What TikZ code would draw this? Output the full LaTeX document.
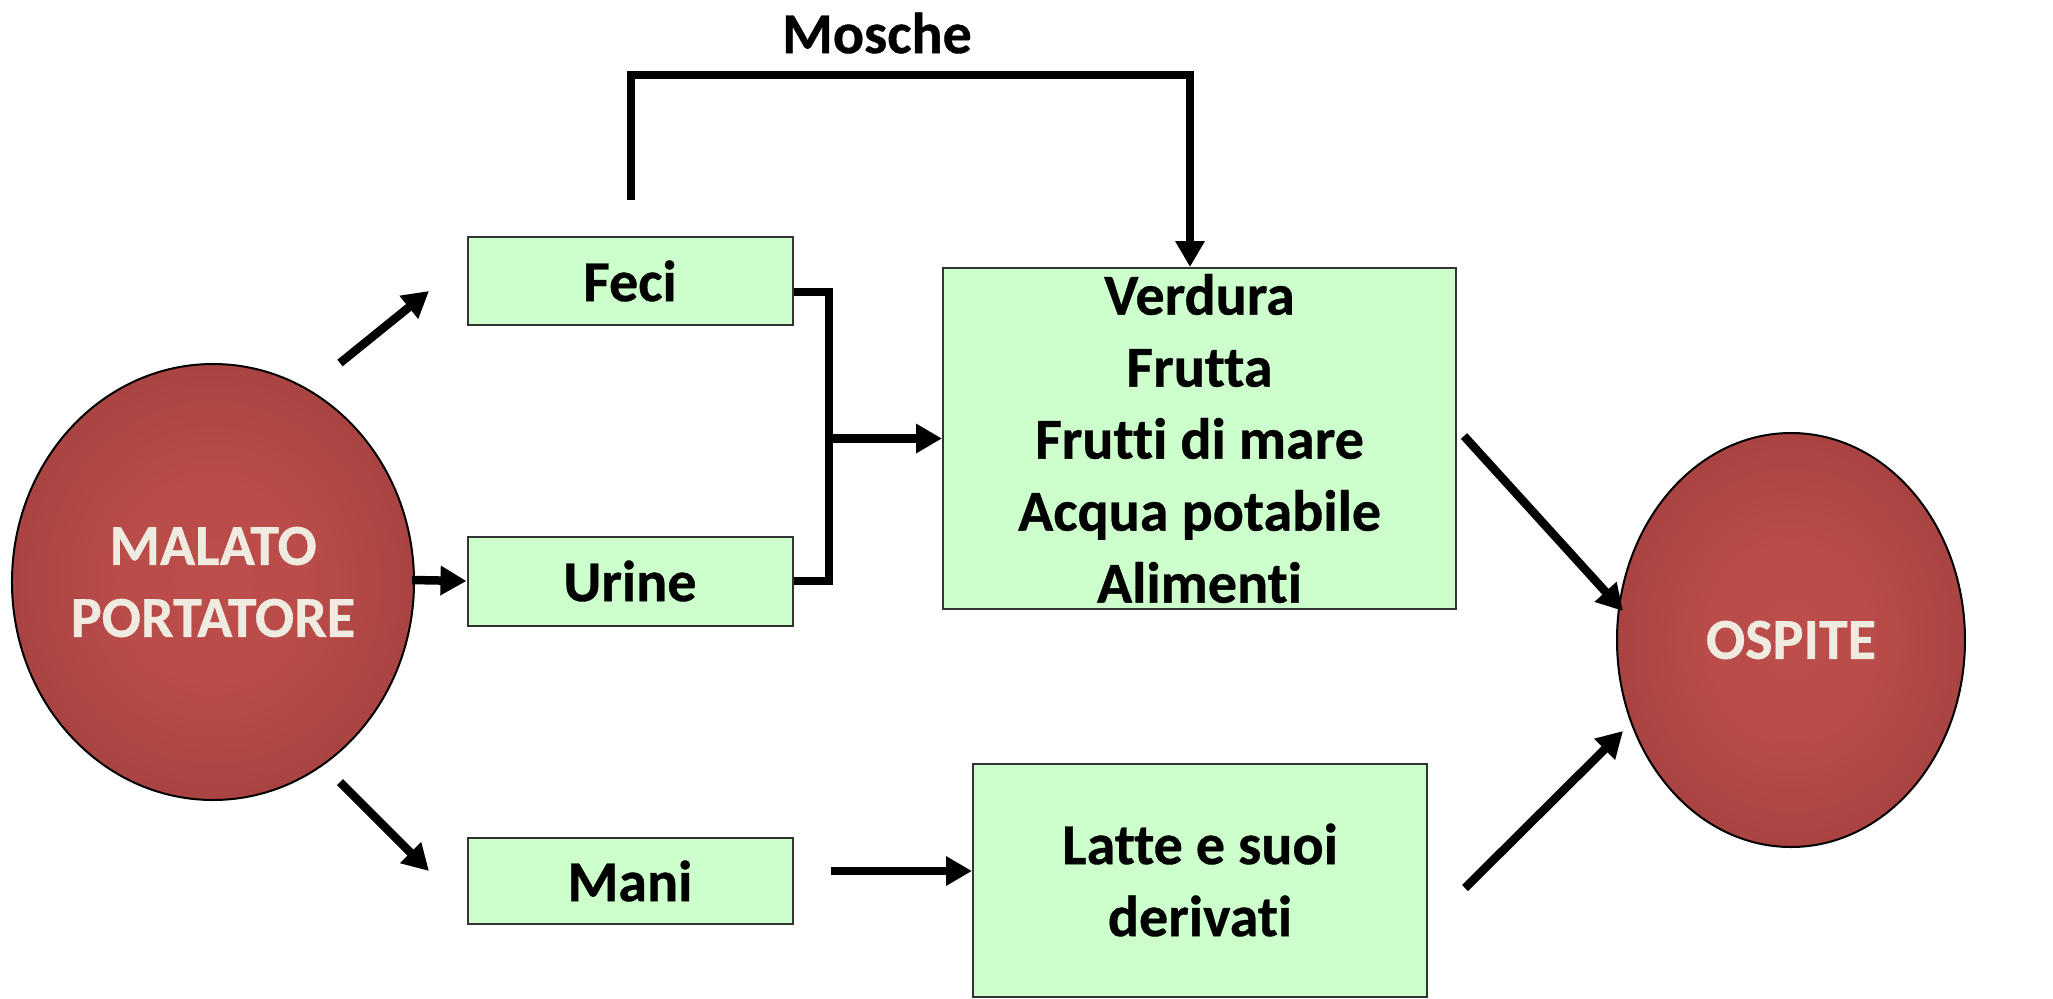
\documentclass[tikz,border=0pt]{standalone}
\usepackage{fontspec}
\setmainfont{Carlito}[Ligatures=NoCommon, BoldFeatures={FakeBold=0.6}]
\usetikzlibrary{arrows.meta,shapes.geometric,calc}
\definecolor{boxfill}{HTML}{CCFFCC}
\definecolor{boxline}{HTML}{333333}
\definecolor{redin}{HTML}{BC4D4B}
\definecolor{redout}{HTML}{8A3534}
\definecolor{circtext}{HTML}{F0EBE0}
\pgfdeclareradialshading{blobshade}{\pgfpoint{0bp}{0bp}}{color(0bp)=(redin); color(12bp)=(redin!95!redout); color(50bp)=(redout); color(100bp)=(redout)}
\tikzset{
  txt/.style={font=\bfseries\fontsize{29}{36}\selectfont, align=center},
  box/.style={txt, draw=boxline, line width=1pt, fill=boxfill, inner sep=0pt, rectangle},
  blob/.style={ellipse, draw=black, line width=1pt, shade, shading=blobshade, text=circtext, txt, inner sep=0pt},
  arr/.style={line width=4.25pt, -{Triangle[length=13pt,width=14pt]}},
  ln/.style={line width=4.25pt}
}
\begin{document}
\begin{tikzpicture}[x=0.5pt,y=-0.5pt]
\useasboundingbox[fill=white] (0,0) rectangle (2053,998);
% main nodes
\node[blob, minimum width=200pt, minimum height=218pt] (malato) at (213,582) {MALATO\\PORTATORE};
\node[blob, minimum width=174pt, minimum height=207pt] (ospite) at (1791,640) {OSPITE};
\node[box, minimum width=162.5pt, minimum height=44pt] (feci) at (630,281) {Feci};
\node[box, minimum width=162.5pt, minimum height=44.5pt] (urine) at (630,581) {Urine};
\node[box, minimum width=162.5pt, minimum height=43pt] (mani) at (630,881) {Mani};
\node[box, minimum width=256.5pt, minimum height=170.5pt] (verdura) at (1199.5,438.5) {Verdura\\Frutta\\Frutti di mare\\Acqua potabile\\Alimenti};
\node[box, minimum width=227pt, minimum height=116.5pt] (latte) at (1200,880) {Latte e suoi\\derivati};
\node[txt] (mosche) at (877,33) {Mosche};
% free ends
\coordinate (m1s) at (340,363); \coordinate (m1e) at (429,291);
\coordinate (m2s) at (412,580);
\coordinate (m3s) at (340,782); \coordinate (m3e) at (429,871);
\coordinate (fy) at (0,292);
\coordinate (bx) at (829,0);
\coordinate (ms) at (631,200);
\coordinate (mtop) at (0,75);
\coordinate (mx) at (1190,0);
\coordinate (v1s) at (1464,436); \coordinate (v1e) at (1623,611);
\coordinate (l1s) at (1465,888); \coordinate (l1e) at (1623,731);
\coordinate (mls) at (831,871);
% connectors
\draw[arr] (m1s) -- (m1e);
\draw[arr] (m2s) -- (urine.west);
\draw[arr] (m3s) -- (m3e);
\draw[ln] (feci.east |- fy) -| (bx |- urine.east) -- (urine.east);
\draw[arr] (bx |- verdura.west) -- (verdura.west);
\draw[arr] (ms) -- (ms |- mtop) -| (mx |- verdura.north);
\draw[arr] (mls) -- (latte.west |- mls);
\draw[arr] (v1s) -- (v1e);
\draw[arr] (l1s) -- (l1e);
\end{tikzpicture}
\end{document}
